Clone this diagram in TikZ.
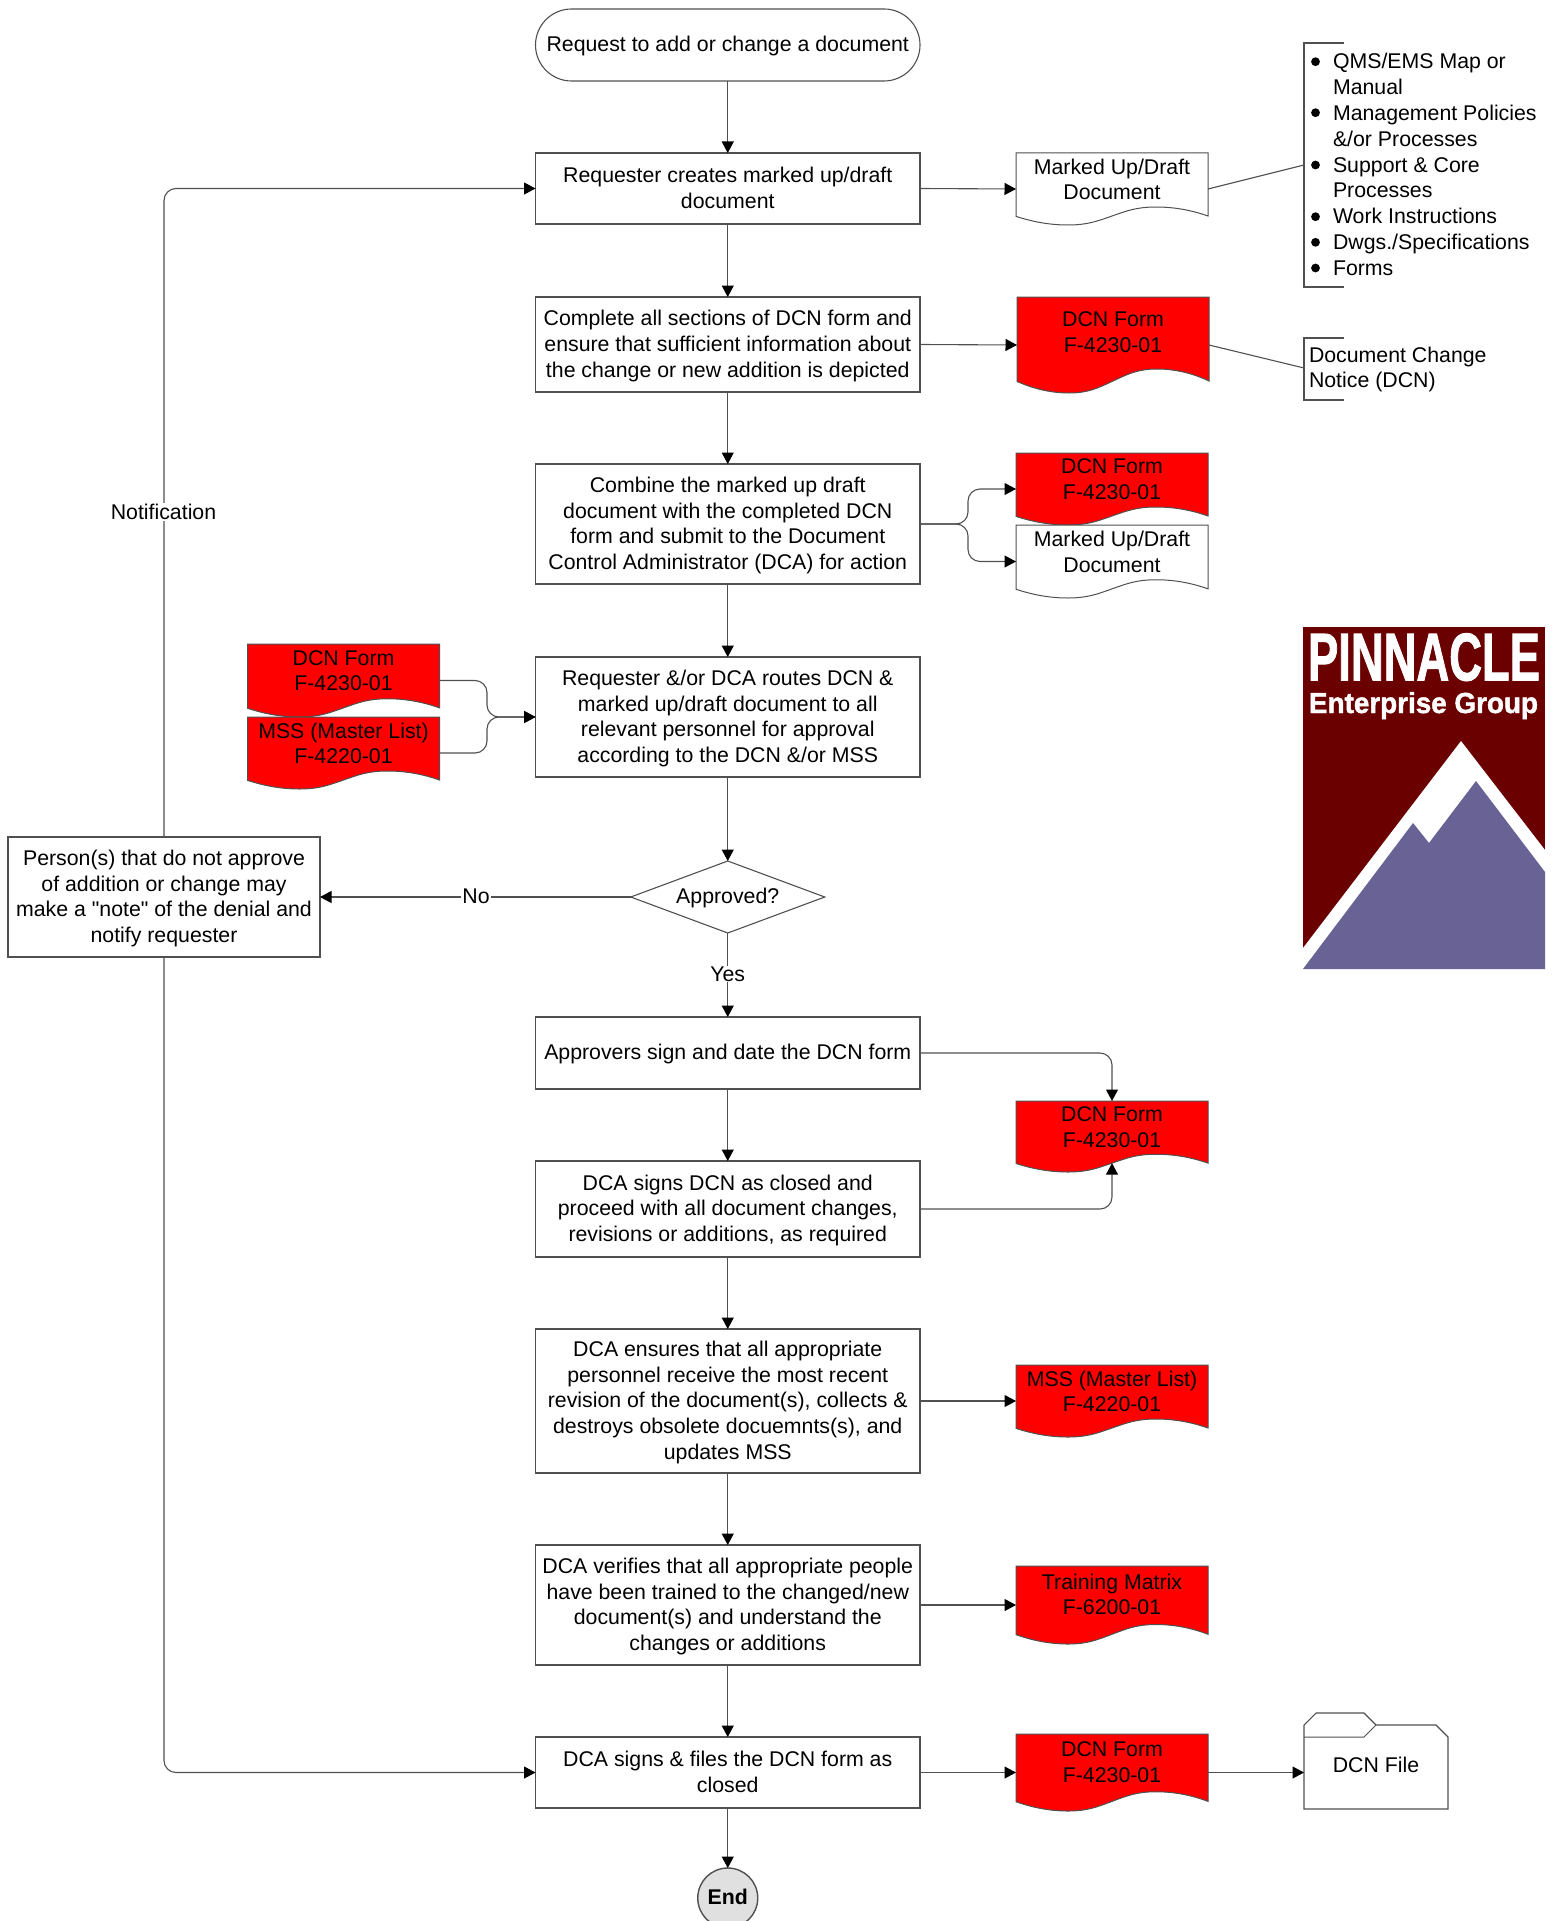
\documentclass[tikz,border=0pt]{standalone}
\usepackage{fontspec}
\usepackage{graphicx}
\setmainfont{Liberation Sans}
\newfontfamily\quotefont{Liberation Sans}
\newfontfamily\logofont[BoldFeatures={FakeBold=1.6}]{Liberation Sans}
\usetikzlibrary{arrows.meta,shapes.geometric}
\definecolor{linegray}{HTML}{505050}
\definecolor{logored}{HTML}{6B0000}
\definecolor{logoblue}{HTML}{686394}
\definecolor{endgray}{HTML}{E0E0E0}
\newcommand\mainsize{\fontsize{21.3}{25.65}\selectfont}
\tikzset{
  x=1pt,y=-1pt,
  base/.style={outer sep=0pt,inner sep=2pt,align=center,font=\mainsize},
  multi/.style={text depth=1.5pt},
  single/.style={execute at begin node={\vrule height 21pt depth 8.7pt width 0pt\relax}},
  proc/.style={base,multi,draw=linegray,line width=1.1pt,fill=white,minimum width=384.5pt},
  proc1/.style={base,single,draw=linegray,line width=1.1pt,fill=white,minimum width=384.5pt},
  conn/.style={draw=linegray,line width=1.1pt,-{Triangle[length=11.5pt,width=12pt,fill=black,color=black]}},
  plain/.style={draw=linegray,line width=1.1pt},
  curved/.style={conn,rounded corners=12pt},
  lbl/.style={base,fill=white,inner sep=1pt},
  docshape/.style={draw=linegray,line width=1pt},
}
% name, left, top, bottom, fill, text
\newcommand\docnode[6]{%
  \pgfmathsetmacro\dl{#2}\pgfmathsetmacro\dr{#2+192}\pgfmathsetmacro\dw{192}%
  \pgfmathsetmacro\dt{#3}\pgfmathsetmacro\dh{#4-#3}%
  \path[docshape,fill=#5] (\dl,\dt) -- (\dr,\dt) -- (\dr,\dt+.875*\dh)
    .. controls (\dl+.92*\dw,\dt+.80*\dh) and (\dl+.83*\dw,\dt+.75*\dh) .. (\dl+.73*\dw,\dt+.75*\dh)
    .. controls (\dl+.63*\dw,\dt+.75*\dh) and (\dl+.58*\dw,\dt+.80*\dh) .. (\dl+.5*\dw,\dt+.875*\dh)
    .. controls (\dl+.42*\dw,\dt+.95*\dh) and (\dl+.37*\dw,\dt+1.0*\dh) .. (\dl+.27*\dw,\dt+1.0*\dh)
    .. controls (\dl+.17*\dw,\dt+1.0*\dh) and (\dl+.08*\dw,\dt+.95*\dh) .. (\dl,\dt+.88*\dh) -- cycle;
  \node[outer sep=0pt,inner sep=0pt,minimum width=\dw pt,minimum height=\dh pt] (#1) at (\dl+.5*\dw,\dt+.5*\dh) {};
  \node[base,multi] (#1t) at (\dl+.5*\dw,\dt+.365*\dh+.6) {#6};
  \coordinate (#1w) at (\dl+.5*\dw,\dt+.875*\dh);
}
\begin{document}
\begin{tikzpicture}
\useasboundingbox (0,0) rectangle (1556,1921);
\clip (0,0) rectangle (1556,1921);

% process boxes
\node[proc1,rounded corners=36pt,minimum height=72pt] (start) at (727.75,45) {Request to add or change a document};
\node[proc,minimum height=71pt] (b1) at (727.75,188.5) {Requester creates marked up/draft\\document};
\node[proc,minimum height=95pt] (b2) at (727.75,344.5) {Complete all sections of DCN form and\\ensure that sufficient information about\\the change or new addition is depicted};
\node[proc,minimum height=120pt] (b3) at (727.75,524) {Combine the marked up draft\\document with the completed DCN\\form and submit to the Document\\Control Administrator (DCA) for action};
\node[proc,minimum height=120pt] (b4) at (727.75,717) {Requester \&/or DCA routes DCN \&\\marked up/draft document to all\\relevant personnel for approval\\according to the DCN \&/or MSS};
\node[base,single,shape=diamond,shape aspect=2.69,draw=linegray,line width=1.1pt,fill=white,inner sep=0pt,minimum width=194pt,minimum height=72pt] (dec) at (727.75,897) {Approved?};
\node[proc,minimum width=312pt,minimum height=120pt] (deny) at (164,897) {Person(s) that do not approve\\of addition or change may\\make a {\quotefont"}note{\quotefont"} of the denial and\\notify requester};
\node[proc1,minimum height=72pt] (b5) at (727.75,1053) {Approvers sign and date the DCN form};
\node[proc,minimum height=96pt] (b6) at (727.75,1209) {DCA signs DCN as closed and\\proceed with all document changes,\\revisions or additions, as required};
\node[proc,minimum height=144pt] (b7) at (727.75,1401) {DCA ensures that all appropriate\\personnel receive the most recent\\revision of the document(s), collects \&\\destroys obsolete docuemnts(s), and\\updates MSS};
\node[proc,minimum height=120pt] (b8) at (727.75,1605) {DCA verifies that all appropriate people\\have been trained to the changed/new\\document(s) and understand the\\changes or additions};
\node[proc,minimum height=71pt] (b9) at (727.75,1772.5) {DCA signs \& files the DCN form as\\closed};
\node[base,single,circle,draw=linegray,line width=1.4pt,fill=endgray,inner sep=0pt,minimum size=60pt,font=\mainsize\bfseries] (endn) at (727.75,1898) {End};

% documents
\docnode{d1}{1016}{153}{225}{white}{Marked Up/Draft\\Document}
\docnode{d2}{1017}{297}{393}{red}{DCN Form\\F-4230-01}
\docnode{d3}{1016}{453}{525}{red}{DCN Form\\F-4230-01}
\docnode{d4}{1016}{525}{598}{white}{Marked Up/Draft\\Document}
\docnode{d5}{247.5}{644}{717}{red}{DCN Form\\F-4230-01}
\docnode{d6}{247.5}{717}{789}{red}{MSS (Master List)\\F-4220-01}
\docnode{d7}{1016}{1101}{1172}{red}{DCN Form\\F-4230-01}
\docnode{d8}{1016}{1365}{1437}{red}{MSS (Master List)\\F-4220-01}
\docnode{d9}{1016}{1566}{1644}{red}{Training Matrix\\F-6200-01}
\docnode{d10}{1016}{1734}{1811}{red}{DCN Form\\F-4230-01}

% annotations
\draw[plain] (1344,43) -- (1304,43) -- (1304,287) -- (1344,287);
\coordinate (listc) at (1304,165);
\node[outer sep=0pt,align=left,anchor=north west,inner sep=0pt,font=\fontsize{21.3}{25.8}\selectfont] (list) at (1333,53.5) {QMS/EMS Map or\\Manual\\Management Policies\\\&/or Processes\\Support \& Core\\Processes\\Work Instructions\\Dwgs./Specifications\\Forms};
\foreach \by in {61.7,112.7,165,216.7,242.3,268}
  \fill[black] (1315.5,\by) circle[radius=4.4pt];
\draw[plain] (d1.east) -- (listc);

\draw[plain] (1344,338) -- (1304,338) -- (1304,400) -- (1344,400);
\coordinate (notec) at (1304,368);
\node[base,multi,align=left,anchor=west,inner sep=0pt] (note) at (1309,368) {Document Change\\Notice (DCN)};
\draw[plain] (d2.east) -- (notec);

% folder
\path[draw=linegray,line width=1.1pt,fill=white] (1304,1725) -- (1316,1713) -- (1364,1713) -- (1376,1725) -- (1436,1725) -- (1448,1737) -- (1448,1809) -- (1304,1809) -- cycle;
\draw[plain,line width=1pt] (1304,1737) -- (1364,1737) -- (1376,1725);
\node[minimum width=144pt,minimum height=96pt,inner sep=0pt,outer sep=0pt] (folder) at (1376,1761) {};
\node[base,single] (foldert) at (1376,1766) {DCN File};

% logo
\fill[logored] (1303,627) rectangle (1545,969);
\fill[white] (1303,948) -- (1461,741) -- (1545,850) -- (1545,969) -- (1303,969) -- cycle;
\fill[logoblue] (1303,969) -- (1413,823) -- (1429,843) -- (1476,781) -- (1545,872) -- (1545,969) -- cycle;
\node[inner sep=0pt,outer sep=0pt,anchor=south west,text=white,font=\logofont\bfseries] (logoa) at (1308,681) {\resizebox{232pt}{47pt}{PINNACLE}};
\node[inner sep=0pt,outer sep=0pt,anchor=base west,text=white,font=\logofont\bfseries] (logob) at (1309,713) {\resizebox{229pt}{21pt}{Enterprise Group}};

% connectors
\draw[conn] (start) -- (b1);
\draw[conn] (b1) -- (b2);
\draw[conn] (b2) -- (b3);
\draw[conn] (b3) -- (b4);
\draw[conn] (b4) -- (dec);
\draw[conn] (dec.south) -- (b5.north);
\draw[conn] (b5) -- (b6);
\draw[conn] (b6) -- (b7);
\draw[conn] (b7) -- (b8);
\draw[conn] (b8) -- (b9);
\draw[conn] (b9) -- (endn);
\draw[conn] (dec.west) -- (deny.east);
\draw[curved] (deny.north) |- (b1.west);
\draw[curved] (deny.south) |- (b9.west);
\draw[conn] (b1.east) -- (d1.west);
\draw[conn] (b2.east) -- (d2.west);
\coordinate (fork) at (968,524);
\draw[curved] (b3.east) -- (fork) |- (d3.west);
\draw[curved] (b3.east) -- (fork) |- (d4.west);
\coordinate (merge) at (487,717);
\draw[curved] (d5.east) -| (merge) -- (b4.west);
\draw[curved] (d6.east) -| (merge) -- (b4.west);
\draw[curved] (b5.east) -| (d7.north);
\draw[curved] (b6.east) -| (d7w);
\draw[conn] (b7.east) -- (d8.west);
\draw[conn] (b8.east) -- (d9.west);
\draw[conn] (b9.east) -- (d10.west);
\draw[conn] (d10.east) -- (d10.east -| folder.west);

% connector labels
\node[lbl] (notif) at (163.5,512) {Notification};
\node[lbl] (nolbl) at (476,896) {No};
\node[lbl] (yeslbl) at (727.75,974) {Yes};
\end{tikzpicture}
\end{document}
